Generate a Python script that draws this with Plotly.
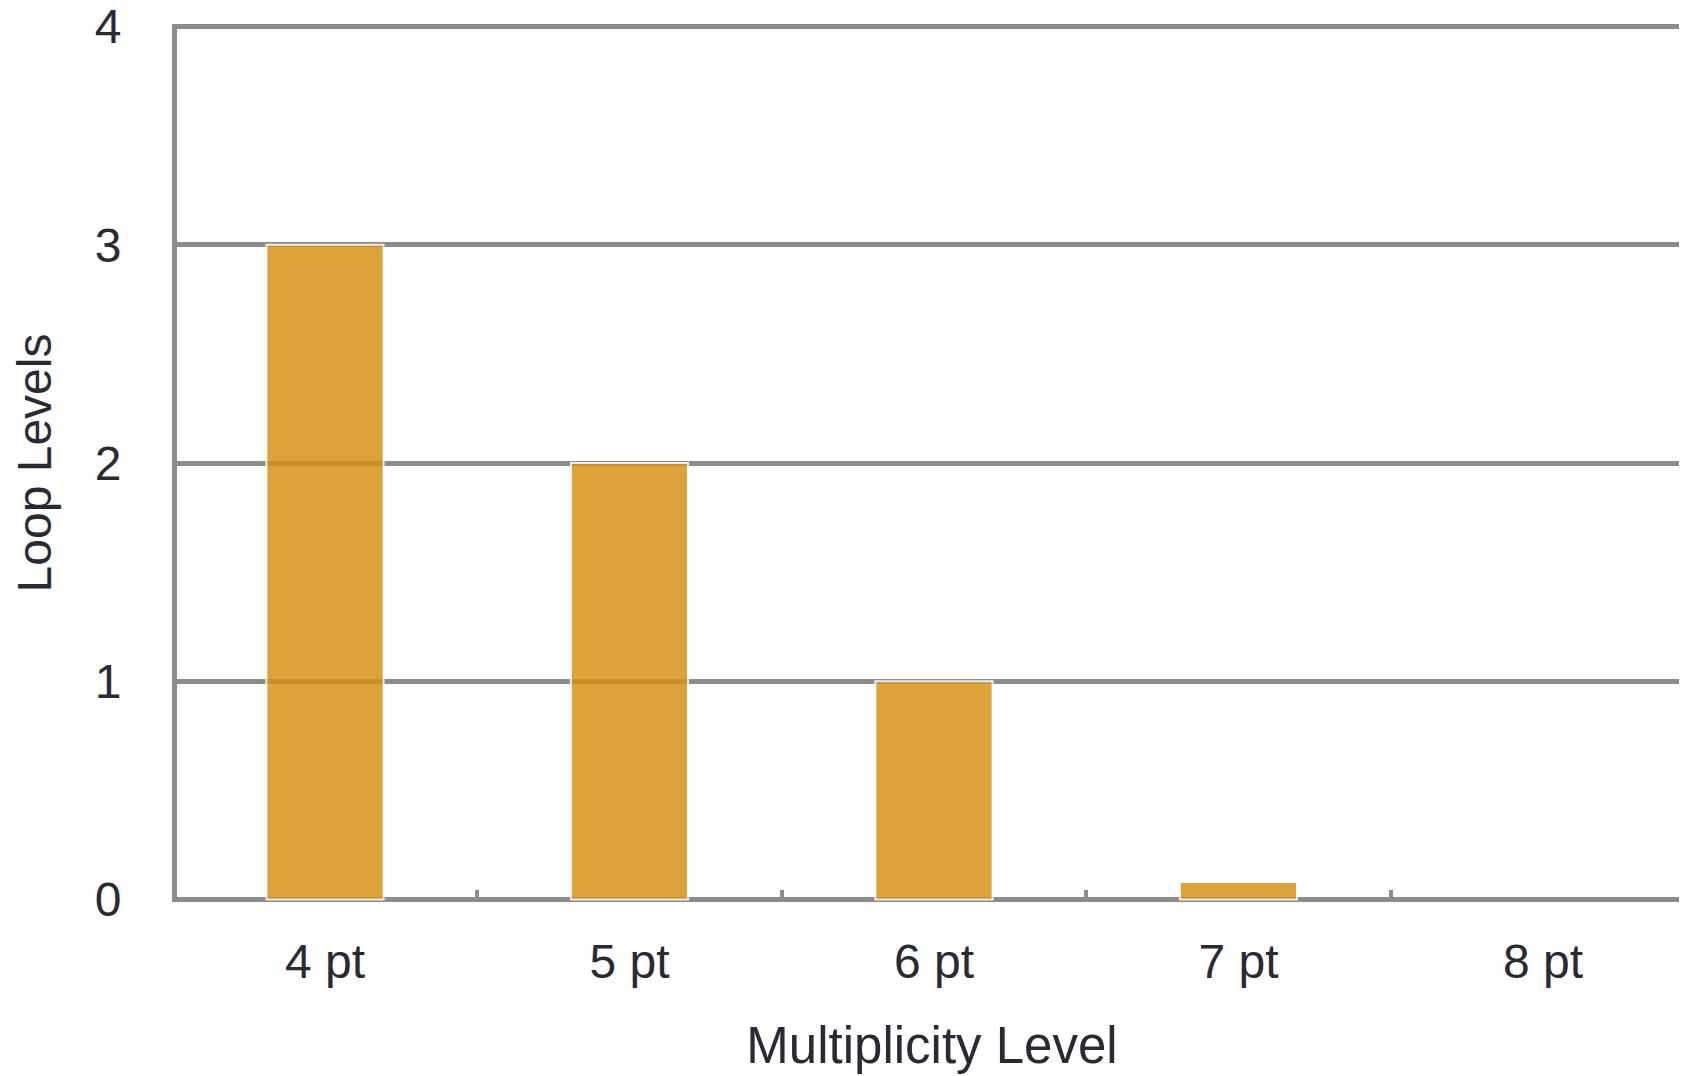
import plotly.graph_objects as go

categories = ["4 pt", "5 pt", "6 pt", "7 pt", "8 pt"]
loop_levels = [3, 2, 1, 0.08, 0]
y_ticks = [0, 1, 2, 3, 4]

GRID = "#8c8c8c"
TEXT = "#2a2a35"
FONT = "Liberation Sans, Arial, sans-serif"

# white outline only where a bar actually has height
outline_widths = [2 if v > 0 else 0 for v in loop_levels]

fig = go.Figure(
    go.Bar(
        x=categories,
        y=loop_levels,
        width=0.385,
        marker=dict(color="rgb(212,145,18)", opacity=0.83,
                    line=dict(color="white", width=outline_widths)),
    )
)

# page body has an 8px default margin; size the figure so it fills the window exactly
fig.update_layout(
    width=1679,
    height=1068,
    margin=dict(l=169, r=0, t=16, b=173.5),
    paper_bgcolor="white",
    plot_bgcolor="white",
    showlegend=False,
    font=dict(family=FONT, color=TEXT, size=48),
)

fig.update_xaxes(
    type="category",
    categoryorder="array",
    categoryarray=categories,
    range=[-0.486, 4.473],
    showgrid=False,
    showline=False,
    ticks="inside",
    tickson="boundaries",
    ticklen=12,
    tickwidth=4,
    tickcolor=GRID,
    tickfont=dict(size=48, color=TEXT, family=FONT),
    ticklabelstandoff=27,
    automargin=False,
    title=dict(text="Multiplicity Level", font=dict(size=51, color=TEXT, family=FONT), standoff=40),
)

fig.update_yaxes(
    range=[-0.01145, 4.01145],
    tickvals=y_ticks,
    ticktext=[str(v) for v in y_ticks],
    showgrid=True,
    gridcolor=GRID,
    gridwidth=5,
    zeroline=False,
    showline=True,
    linecolor=GRID,
    linewidth=5,
    ticks="",
    ticklabeloverflow="allow",
    automargin=False,
    tickfont=dict(size=48, color=TEXT, family=FONT),
    ticklabelstandoff=41,
    title=dict(text="Loop Levels", font=dict(size=48, color=TEXT, family=FONT), standoff=29),
)

fig.write_html("out.html")
